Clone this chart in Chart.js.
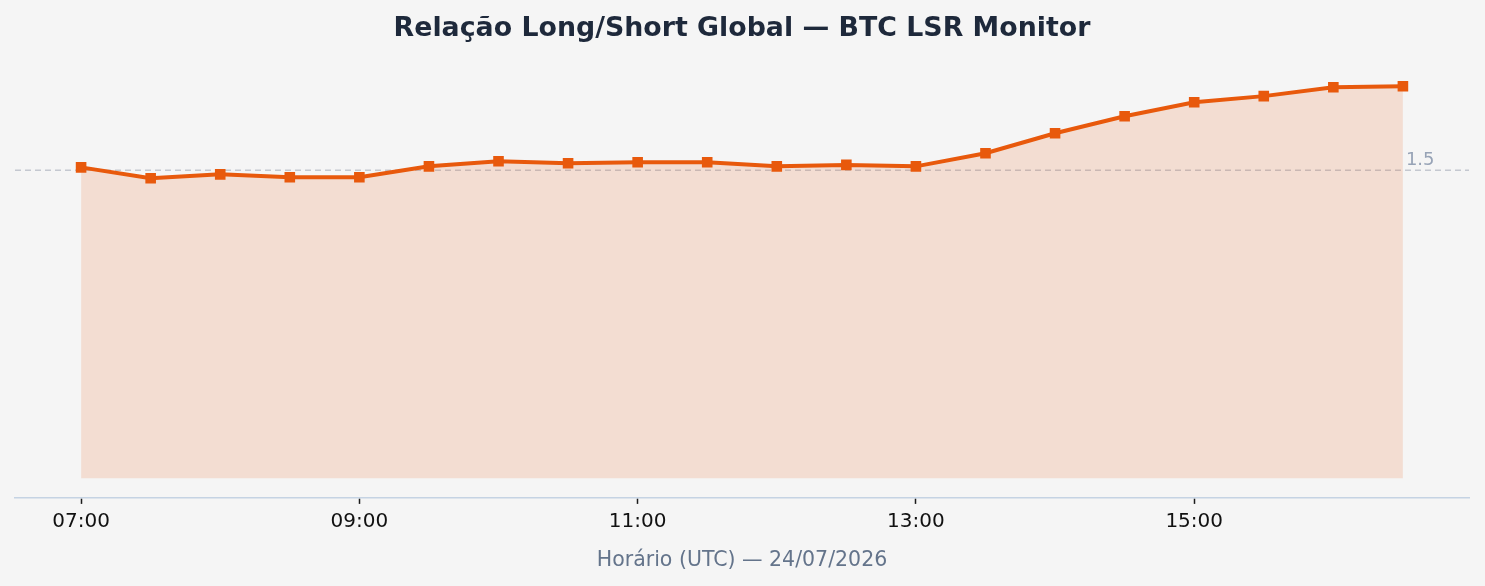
<!DOCTYPE html>
<html>
<head>
<meta charset="utf-8">
<script src="https://cdn.jsdelivr.net/npm/chart.js@4.4.1/dist/chart.umd.min.js"></script>
<style>
  html, body { margin: 0; padding: 0; background: #f5f5f5; }
  #wrap { width: 1485px; height: 586px; position: relative; }
</style>
</head>
<body>
<div id="wrap"><canvas id="lsrChart"></canvas></div>
<script>
// ============================================================
// BTC LSR Monitor — global long/short ratio
// ============================================================

const times = ['07:00','07:30','08:00','08:30','09:00','09:30','10:00','10:30','11:00','11:30',
               '12:00','12:30','13:00','13:30','14:00','14:30','15:00','15:30','16:00','16:30'];
const lsrValues = [1.514, 1.461, 1.480, 1.466, 1.466, 1.519, 1.544, 1.534, 1.539, 1.539,
                   1.519, 1.526, 1.519, 1.583, 1.680, 1.763, 1.831, 1.861, 1.904, 1.909];
const tickLabels = ['07:00','09:00','11:00','13:00','15:00'];
const refLevel = 1.5;

const ORANGE = '#e8590c';

// reference line + label, drawn through the chart scales
const refLinePlugin = {
  id: 'refLine',
  beforeDatasetsDraw(chart) {
    const { ctx, chartArea, scales } = chart;
    const y = scales.y.getPixelForValue(refLevel);
    ctx.save();
    ctx.strokeStyle = '#c4c8d0';
    ctx.lineWidth = 1.5;
    ctx.setLineDash([6, 4]);
    ctx.beginPath();
    ctx.moveTo(chartArea.left, y);
    ctx.lineTo(chartArea.right, y);
    ctx.stroke();
    ctx.restore();
  },
  afterDatasetsDraw(chart) {
    const { ctx, scales } = chart;
    const x = scales.x.getPixelForValue(times.length - 1);
    const y = scales.y.getPixelForValue(refLevel);
    ctx.save();
    ctx.fillStyle = '#97a3b6';
    ctx.font = '18px "DejaVu Sans"';
    ctx.textAlign = 'left';
    ctx.textBaseline = 'alphabetic';
    ctx.fillText(refLevel.toString(), x + 3, y - 5);
    ctx.restore();
  }
};

const yMax = Math.max(...lsrValues);
const pad = yMax * 0.05;
const xPad = (times.length - 1) * 0.05;

new Chart(document.getElementById('lsrChart'), {
  type: 'line',
  data: {
    datasets: [{
      data: lsrValues.map((v, i) => ({ x: i, y: v })),
      borderColor: ORANGE,
      borderWidth: 4,
      backgroundColor: 'rgba(232,89,12,0.15)',
      fill: 'origin',
      tension: 0,
      pointStyle: 'rect',
      pointRadius: 7.5,
      pointBackgroundColor: ORANGE,
      pointBorderWidth: 0
    }]
  },
  options: {
    responsive: true,
    maintainAspectRatio: false,
    animation: false,
    layout: { padding: { left: 15, right: 16, top: 0, bottom: 13.5 } },
    plugins: {
      legend: { display: false },
      tooltip: { enabled: false },
      title: {
        display: true,
        text: 'Relação Long/Short Global — BTC LSR Monitor',
        color: '#1e293b',
        font: { family: 'DejaVu Sans', size: 26.8, weight: 'bold' },
        padding: { top: 13, bottom: 21.5 }
      }
    },
    scales: {
      x: {
        type: 'linear',
        min: -xPad,
        max: times.length - 1 + xPad,
        afterBuildTicks: axis => {
          axis.ticks = tickLabels.map(t => ({ value: times.indexOf(t) }));
        },
        ticks: {
          callback: v => times[v],
          color: '#111111',
          font: { family: 'DejaVu Sans', size: 20 },
          maxRotation: 0,
          padding: 6
        },
        grid: {
          drawOnChartArea: false,
          drawTicks: true,
          tickLength: 6,
          tickColor: '#1a1a1a',
          tickWidth: 1.5
        },
        border: { display: true, color: '#c5d3e3', width: 1.5 },
        title: {
          display: true,
          text: 'Horário (UTC) — 24/07/2026',
          color: '#64748b',
          font: { family: 'DejaVu Sans', size: 20.5 },
          padding: { top: 8, bottom: 0 }
        }
      },
      y: {
        display: false,
        min: -pad,
        max: yMax + pad
      }
    }
  },
  plugins: [refLinePlugin]
});
</script>
</body>
</html>
